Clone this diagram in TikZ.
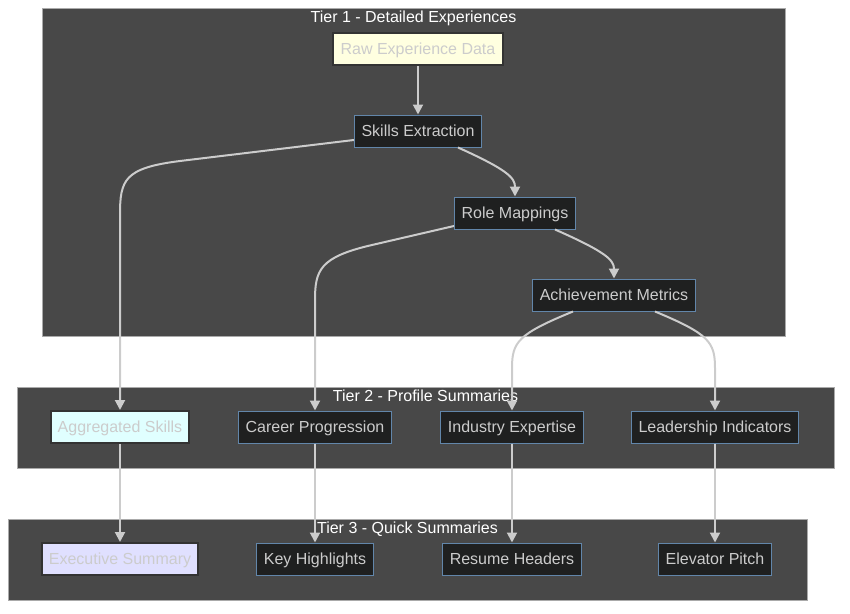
\documentclass[tikz,border=0pt]{standalone}
\usepackage{fontspec}
\setmainfont{Liberation Sans}
\usetikzlibrary{arrows.meta}
\definecolor{tierfill}{RGB}{72,72,72}
\definecolor{tierline}{RGB}{170,170,170}
\definecolor{nodefill}{RGB}{31,32,32}
\definecolor{nodeline}{RGB}{98,134,170}
\definecolor{nodetext}{RGB}{204,204,204}
\definecolor{darkline}{RGB}{51,51,51}
\definecolor{edgeline}{RGB}{204,204,204}
\definecolor{rawfill}{RGB}{255,255,224}
\definecolor{aggfill}{RGB}{224,255,255}
\definecolor{execfill}{RGB}{224,224,255}

\begin{document}
\begin{tikzpicture}[x=0.75pt, y=-0.75pt,
        main/.style = {draw=nodeline, fill=nodefill, text=nodetext, line width=0.75pt, minimum height=24pt, text height=9.8pt, text depth=1.4pt, inner xsep=5.4pt, font=\fontsize{12}{14}\selectfont},
        light/.style = {main, draw=darkline, line width=1.5pt},
        tier/.style = {draw=tierline, fill=tierfill, line width=0.75pt, inner sep=0pt},
        tiername/.style = {text=white, anchor=north, inner sep=0pt, font=\fontsize{12}{14}\selectfont},
        every path/.style = {draw=edgeline, line width=1.5pt},
        >={Triangle[length=7.5pt, width=7.5pt]}]
        \useasboundingbox[draw=none] (0,0) rectangle (850,614);

        % tiers
        \node[tier, minimum width=557.25pt, minimum height=246pt] (t1) at (413.5,172) {};
        \node[tier, minimum width=612.75pt, minimum height=60.75pt] (t2) at (425.5,427.5) {};
        \node[tier, minimum width=599.25pt, minimum height=60.75pt] (t3) at (407.5,559.5) {};
        \node[tiername] (n1) at ([yshift=-1.8pt]t1.north) {Tier 1 - Detailed Experiences};
        \node[tiername] (n2) at ([yshift=-1.8pt]t2.north) {Tier 2 - Profile Summaries};
        \node[tiername] (n3) at ([yshift=-1.8pt]t3.north) {Tier 3 - Quick Summaries};

        \node[light, fill=rawfill] (1) at (418,49) {Raw Experience Data};
        \node[main] (2) at (418,131) {Skills Extraction};
        \node[main] (3) at (515,213) {Role Mappings};
        \node[main] (4) at (614,295) {Achievement Metrics};
        \node[light, fill=aggfill] (5) at (120,427) {Aggregated Skills};
        \node[main] (6) at (315,427) {Career Progression};
        \node[main] (7) at (512,427) {Industry Expertise};
        \node[main] (8) at (715,427) {Leadership Indicators};
        \node[light, fill=execfill] (9) at (120,559) {Executive Summary};
        \node[main] (10) at (315,559) {Key Highlights};
        \node[main] (11) at (512,559) {Resume Headers};
        \node[main] (12) at (715,559) {Elevator Pitch};

        \draw[->] (1) -- (2);
        \draw[->] ([xshift=30pt]2.south) .. controls (508,170) and (515,178) .. (3.north);
        \draw[->] ([xshift=30pt]3.south) .. controls (606,252) and (614,260) .. (4.north);

        \draw[->] ([yshift=-6.75pt]2.west) -- (180,161) .. controls (124,168) and (120,180) .. (120,215) -- (5.north);
        \draw[->] ([yshift=-9.75pt]3.west) -- (372,245) .. controls (320,257) and (315,270) .. (315,300) -- (6.north);
        \draw[->] ([xshift=-30.75pt]4.south) .. controls (518,334) and (512,342) .. (512,368) -- (7.north);
        \draw[->] ([xshift=30.75pt]4.south) .. controls (709,334) and (715,342) .. (715,368) -- (8.north);

        \draw[->] (5) -- (9);
        \draw[->] (6) -- (10);
        \draw[->] (7) -- (11);
        \draw[->] (8) -- (12);
\end{tikzpicture}
\end{document}
